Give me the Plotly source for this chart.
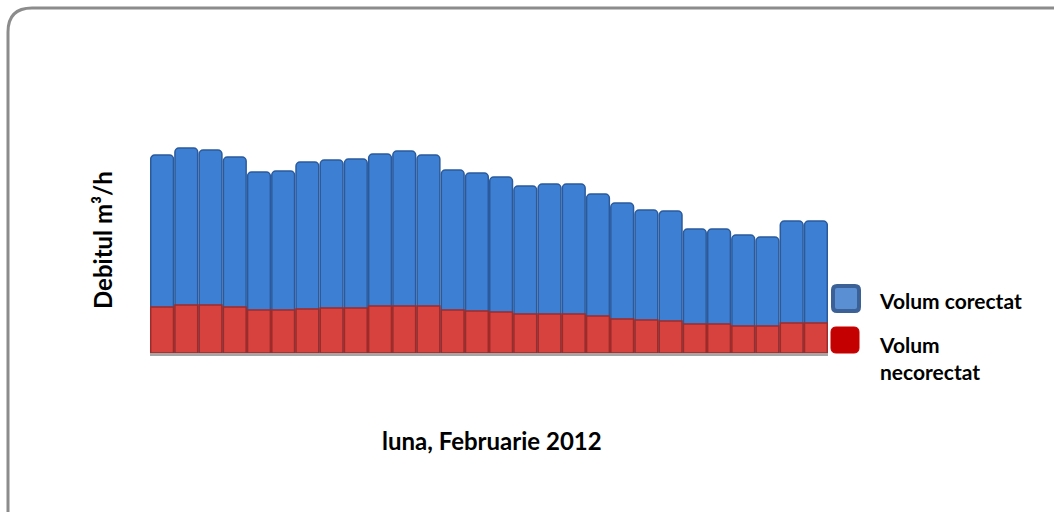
import plotly.graph_objects as go

days = [str(d) for d in range(1, 29)]
volum_corectat = [198, 205, 203, 196, 181, 182, 191, 193, 194, 199, 202, 198, 183, 180,
                  176, 167, 169, 169, 159, 150, 143, 142, 124, 124, 118, 116, 132, 132]
volum_necorectat = [46, 48, 48, 46, 43, 43, 44, 45, 45, 47, 47, 47, 43, 42,
                    41, 39, 39, 39, 37, 34, 33, 32, 29, 29, 27, 27, 30, 30]
series_names = ["Volum corectat", "Volum necorectat"]
x_title = "luna, Februarie 2012"
y_title = "Debitul m³/h"

W, H = 1054, 512
L, R, T, B = 150, 226, 60, 159
PW, PH = W - L - R, H - T - B

def px(x):
    return (x - L) / PW

def py(y):
    return (H - B - y) / PH

fig = go.Figure()
fig.add_trace(go.Bar(x=days, y=volum_corectat, name=series_names[0],
                     marker=dict(color="#3d7fd3", line=dict(color="#2a5a9c", width=1.5),
                                 cornerradius=4)))
fig.add_trace(go.Bar(x=days, y=volum_necorectat, name=series_names[1],
                     marker=dict(color="#d8423e", line=dict(color="#9e2b28", width=1.5),
                                 cornerradius=4)))

font = "Lato, 'Open Sans', sans-serif"

# rounded outer frame
r = 24
x0, y0, x1, y1 = 8, 8, W + 30, H + 30
path = (f"M {px(x0)},{py(y1)} L {px(x0)},{py(y0 + r)} "
        f"Q {px(x0)},{py(y0)} {px(x0 + r)},{py(y0)} L {px(x1)},{py(y0)}")
shapes = [dict(type="path", xref="paper", yref="paper", path=path,
               line=dict(color="#8c8c8c", width=3))]

def rounded_rect(xa, ya, xb, yb, rr):
    return (f"M {px(xa + rr)},{py(ya)} L {px(xb - rr)},{py(ya)} Q {px(xb)},{py(ya)} {px(xb)},{py(ya + rr)} "
            f"L {px(xb)},{py(yb - rr)} Q {px(xb)},{py(yb)} {px(xb - rr)},{py(yb)} "
            f"L {px(xa + rr)},{py(yb)} Q {px(xa)},{py(yb)} {px(xa)},{py(yb - rr)} "
            f"L {px(xa)},{py(ya + rr)} Q {px(xa)},{py(ya)} {px(xa + rr)},{py(ya)} Z")

# legend keys
shapes.append(dict(type="path", xref="paper", yref="paper",
                   path=rounded_rect(833, 286, 859, 311, 4),
                   fillcolor="#5b8fd3", line=dict(color="#3b6196", width=4)))
shapes.append(dict(type="path", xref="paper", yref="paper",
                   path=rounded_rect(831, 327, 859, 353, 5),
                   fillcolor="#c40000", line=dict(color="#c40000", width=1)))

annotations = [
    dict(text=f"<b>{x_title}</b>", xref="paper", yref="paper", x=px(492), y=py(440),
         xanchor="center", yanchor="middle", showarrow=False,
         font=dict(family=font, size=24, color="#000000")),
    dict(text=f"<b>{y_title}</b>", xref="paper", yref="paper", x=px(102), y=py(240),
         xanchor="center", yanchor="middle", textangle=-90, showarrow=False,
         font=dict(family=font, size=24, color="#000000")),
    dict(text=f"<b>{series_names[0]}</b>", xref="paper", yref="paper", x=px(877), y=py(300),
         xanchor="left", yanchor="middle", showarrow=False,
         font=dict(family=font, size=21, color="#000000")),
    dict(text="<b>Volum<br>necorectat</b>", xref="paper", yref="paper", x=px(877), y=py(358),
         xanchor="left", yanchor="middle", align="left", showarrow=False,
         font=dict(family=font, size=21, color="#000000")),
]

fig.update_layout(
    width=W, height=H, margin=dict(l=L, r=R, t=T, b=B),
    paper_bgcolor="white", plot_bgcolor="white",
    barmode="overlay", bargap=0.06, showlegend=False,
    xaxis=dict(showticklabels=False, ticks="", showgrid=False, zeroline=False,
               showline=True, linecolor="#a6a6a6", linewidth=3, fixedrange=True),
    yaxis=dict(range=[0, PH], visible=False, fixedrange=True),
    shapes=shapes, annotations=annotations,
)
fig.write_html("out.html")
